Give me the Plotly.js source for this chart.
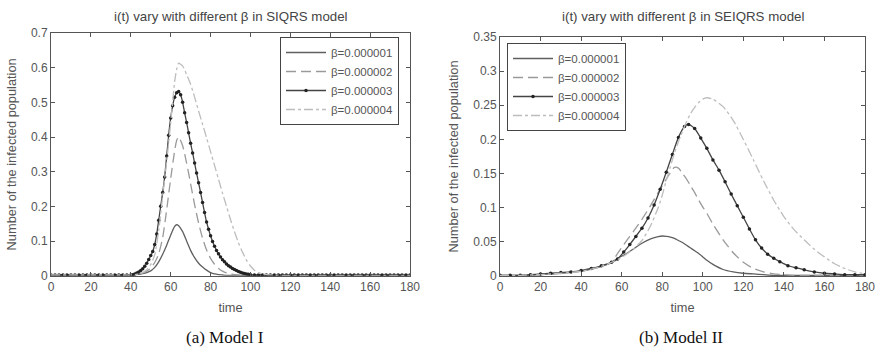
<!DOCTYPE html>
<html>
<head>
<meta charset="utf-8">
<script src="https://cdn.plot.ly/plotly-3.0.1.min.js"></script>
<style>html,body{margin:0;padding:0;background:#fff;}#chart{width:877px;height:348px;}</style>
</head>
<body>
<div id="chart"></div>
<script>
// ---------- Model I (SIQRS) ----------
const tL = [0,10,20,30,36,40,42,44,46,48,50,52,54,56,58,60,62,63,64,66,68,70,72,74,76,78,80,82,84,86,88,90,92,94,96,98,100,102,104,106,108,112,116,120,140,160,180];
const L_b1 = [0.002,0.002,0.002,0.002,0.002,0.002,0.003,0.004,0.006,0.009,0.014,0.024,0.040,0.062,0.088,0.117,0.142,0.147,0.144,0.127,0.100,0.073,0.052,0.036,0.025,0.016,0.009,0.005,0.003,0.002,0.001,0.001,0.001,0.001,0.001,0.001,0.001,0.001,0.001,0.001,0.001,0.001,0.001,0.001,0.001,0.001,0.001];
const L_b2 = [0.002,0.002,0.002,0.002,0.002,0.002,0.003,0.005,0.008,0.013,0.022,0.038,0.063,0.110,0.190,0.280,0.360,0.390,0.400,0.375,0.325,0.265,0.205,0.152,0.108,0.074,0.050,0.033,0.021,0.013,0.008,0.005,0.003,0.002,0.001,0.001,0.001,0.001,0.001,0.001,0.001,0.001,0.001,0.001,0.001,0.001,0.001];
const L_b4 = [0.002,0.002,0.002,0.002,0.002,0.002,0.003,0.005,0.009,0.017,0.032,0.060,0.130,0.230,0.330,0.440,0.560,0.595,0.613,0.605,0.580,0.552,0.515,0.475,0.437,0.398,0.358,0.318,0.278,0.238,0.200,0.162,0.127,0.095,0.068,0.045,0.028,0.016,0.009,0.005,0.003,0.002,0.001,0.001,0.001,0.001,0.001];
const tL3 = [0,2,4,6,8,10,12,14,16,18,20,22,24,26,28,30,32,34,36,38,
  40,41,42,43,44,45,46,47,48,49,50,51,52,53,54,55,56,57,58,59,60,61,62,63,64,65,66,67,68,69,70,71,72,73,74,75,76,77,78,79,80,81,82,83,84,85,86,87,88,89,90,91,92,93,94,95,96,97,98,99,100,
  102,104,106,108,110,112,114,116,118,120,122,124,126,128,130,132,134,136,138,140,142,144,146,148,150,152,154,156,158,160,162,164,166,168,170,172,174,176,178,180];
const L_b3 = [0.002,0.002,0.002,0.002,0.002,0.002,0.002,0.002,0.002,0.002,0.002,0.002,0.002,0.002,0.002,0.002,0.002,0.002,0.002,0.002,
  0.002,0.003,0.005,0.008,0.011,0.015,0.020,0.027,0.036,0.047,0.058,0.070,0.090,0.120,0.160,0.200,0.240,0.285,0.345,0.405,0.455,0.490,0.515,0.528,0.531,0.522,0.500,0.470,0.442,0.412,0.382,0.354,0.325,0.296,0.268,0.240,0.211,0.182,0.155,0.134,0.115,0.099,0.085,0.073,0.063,0.054,0.046,0.040,0.034,0.029,0.025,0.021,0.018,0.015,0.012,0.010,0.008,0.006,0.005,0.004,0.003,
  0.002,0.002,0.002,0.002,0.002,0.002,0.002,0.002,0.002,0.002,0.002,0.002,0.002,0.002,0.002,0.002,0.002,0.002,0.002,0.002,0.002,0.002,0.002,0.002,0.002,0.002,0.002,0.002,0.002,0.002,0.002,0.002,0.002,0.002,0.002,0.002,0.002,0.002,0.002,0.002];

// ---------- Model II (SEIQRS) ----------
const tR = [0,10,20,30,40,45,50,55,58,62,66,70,74,78,80,82,84,86,88,90,92,94,96,98,100,102,105,110,115,120,125,130,135,140,145,150,155,160,165,170,175,180];
const R_b1 = [0.001,0.001,0.002,0.004,0.007,0.010,0.014,0.020,0.026,0.032,0.040,0.048,0.054,0.0575,0.0586,0.058,0.057,0.055,0.052,0.049,0.045,0.041,0.037,0.033,0.028,0.023,0.017,0.0095,0.006,0.004,0.003,0.002,0.001,0.001,0.001,0.001,0.001,0.001,0.001,0.001,0.001,0.001];
const R_b2 = [0.001,0.001,0.002,0.004,0.007,0.010,0.014,0.020,0.033,0.050,0.066,0.083,0.102,0.122,0.132,0.142,0.151,0.159,0.158,0.150,0.142,0.132,0.122,0.111,0.101,0.092,0.076,0.053,0.034,0.020,0.011,0.006,0.003,0.002,0.001,0.001,0.001,0.001,0.001,0.001,0.001,0.001];
const R_b4 = [0.001,0.001,0.002,0.004,0.007,0.010,0.014,0.020,0.024,0.031,0.040,0.052,0.072,0.100,0.118,0.140,0.160,0.180,0.197,0.212,0.226,0.238,0.247,0.254,0.259,0.261,0.259,0.248,0.228,0.200,0.170,0.139,0.111,0.087,0.068,0.053,0.039,0.028,0.018,0.011,0.006,0.003];
const tR3 = [0,5,10,15,20,25,30,35,40,45,50,55,58,61,64,67,70,73,76,79,82,85,88,91,93,96,99,102,105,108,111,114,117,120,123,126,129,132,135,138,142,146,150,155,160,165,170,175,180];
const R_b3 = [0.001,0.001,0.001,0.002,0.003,0.004,0.005,0.006,0.008,0.011,0.015,0.020,0.025,0.035,0.046,0.058,0.070,0.085,0.104,0.127,0.152,0.178,0.203,0.219,0.222,0.216,0.202,0.187,0.170,0.155,0.138,0.120,0.103,0.086,0.069,0.053,0.041,0.032,0.026,0.021,0.015,0.012,0.009,0.006,0.004,0.003,0.002,0.002,0.002];

const names = ['β=0.000001','β=0.000002','β=0.000003','β=0.000004'];

const FONT = 'Arial, "Liberation Sans", sans-serif';
const SERIF = '"Liberation Serif", "Times New Roman", serif';
const styles = [
  {line:{color:'#5f5f5f', width:1.3, dash:'solid'}, mode:'lines'},
  {line:{color:'#9a9a9a', width:1.3, dash:'10px,5px'}, mode:'lines'},
  {line:{color:'#444', width:1.3, dash:'solid'}, mode:'lines+markers', marker:{symbol:'circle', size:3.5, color:'#222'}},
  {line:{color:'#bdbdbd', width:1.3, dash:'dashdot'}, mode:'lines'}
];

function tr(x, y, i, ax, lg){
  const s = JSON.parse(JSON.stringify(styles[i]));
  s.line.shape = 'spline'; s.line.smoothing = 0.6;
  return Object.assign({type:'scatter', x:x, y:y, name:names[i], xaxis:ax[0], yaxis:ax[1], legend:lg}, s);
}

const data = [
  tr(tL, L_b1, 0, ['x','y'], 'legend'),
  tr(tL, L_b2, 1, ['x','y'], 'legend'),
  tr(tL3, L_b3, 2, ['x','y'], 'legend'),
  tr(tL, L_b4, 3, ['x','y'], 'legend'),
  tr(tR, R_b1, 0, ['x2','y2'], 'legend2'),
  tr(tR, R_b2, 1, ['x2','y2'], 'legend2'),
  tr(tR3, R_b3, 2, ['x2','y2'], 'legend2'),
  tr(tR, R_b4, 3, ['x2','y2'], 'legend2')
];

const W = 877, H = 348;
const axBase = {
  showgrid:false, zeroline:false, showline:true, linecolor:'#555', linewidth:1,
  mirror:'ticks', ticks:'inside', ticklen:4, tickcolor:'#555',
  tickfont:{family:FONT, size:12, color:'#555'}
};
const titleFont = {family:FONT, size:12.8, color:'#555'};
const xL = Object.assign({}, axBase, {domain:[51/W, 410/W], range:[0,180], dtick:20, tick0:0, anchor:'y',
  title:{text:'time', font:titleFont, standoff:9}});
const yL = Object.assign({}, axBase, {domain:[(H-275.7)/H, (H-33)/H], range:[0,0.7], dtick:0.1, tick0:0, anchor:'x',
  title:{text:'Number of the infected population', font:titleFont, standoff:11}});
const xR = Object.assign({}, axBase, {domain:[500/W, 865/W], range:[0,180], dtick:20, tick0:0, anchor:'y2',
  title:{text:'time', font:titleFont, standoff:9}});
const yR = Object.assign({}, axBase, {domain:[(H-276)/H, (H-37)/H], range:[0,0.35], dtick:0.05, tick0:0, anchor:'x2',
  title:{text:'Number of the infected population', font:titleFont, standoff:11}});

const legBase = {bgcolor:'#fff', bordercolor:'#444', borderwidth:1, font:{family:FONT, size:11.5, color:'#555'},
  xanchor:'left', yanchor:'top', tracegroupgap:0, itemwidth:40};

const layout = {
  width:W, height:H, margin:{l:0,r:0,t:0,b:0}, paper_bgcolor:'#fff', plot_bgcolor:'#fff',
  showlegend:true,
  xaxis:xL, yaxis:yL, xaxis2:xR, yaxis2:yR,
  legend:Object.assign({}, legBase, {x:280/W, y:(H-37)/H}),
  legend2:Object.assign({}, legBase, {x:507/W, y:(H-43)/H}),
  annotations:[
    {text:'i(t) vary with different β in SIQRS model', x:(51+410)/2/W, y:(H-17)/H, xref:'paper', yref:'paper', showarrow:false, xanchor:'center', yanchor:'middle', font:{family:FONT, size:13.3, color:'#444'}},
    {text:'i(t) vary with different β in SEIQRS model', x:(500+865)/2/W, y:(H-17)/H, xref:'paper', yref:'paper', showarrow:false, xanchor:'center', yanchor:'middle', font:{family:FONT, size:13.3, color:'#444'}},
    {text:'(a) Model I', x:225/W, y:(H-337)/H, xref:'paper', yref:'paper', showarrow:false, xanchor:'center', yanchor:'middle', font:{family:SERIF, size:17, color:'#111'}},
    {text:'(b) Model II', x:681/W, y:(H-337)/H, xref:'paper', yref:'paper', showarrow:false, xanchor:'center', yanchor:'middle', font:{family:SERIF, size:17, color:'#111'}}
  ]
};

Plotly.newPlot('chart', data, layout, {staticPlot:true, displayModeBar:false});
</script>
</body>
</html>
